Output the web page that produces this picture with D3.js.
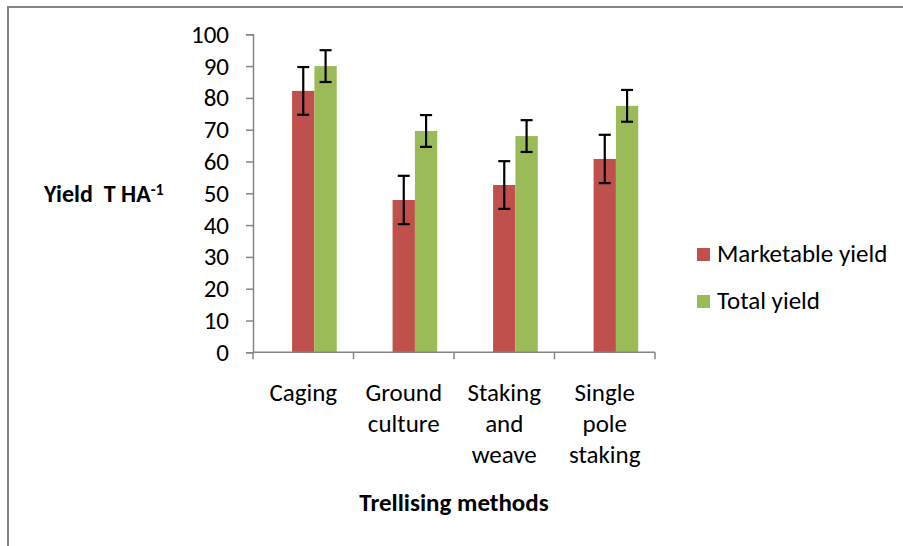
<!DOCTYPE html>
<html>
<head>
<meta charset="utf-8">
<script src="https://cdn.jsdelivr.net/npm/d3@7"></script>
<style>
  body { margin: 0; background: #fff; }
  svg { display: block; font-family: Carlito, Calibri, Lato, sans-serif; }
</style>
</head>
<body>
<svg id="chart" width="903" height="546"></svg>
<script>
// data
const categories = ["Caging", "Ground culture", "Staking and weave", "Single pole staking"];
const categoryLines = [["Caging"], ["Ground", "culture"], ["Staking", "and", "weave"], ["Single", "pole", "staking"]];
const seriesNames = ["Marketable yield", "Total yield"];
const marketable = [82.2, 47.9, 52.6, 60.8];
const marketableErr = [7.5, 7.6, 7.5, 7.6];
const total = [90.0, 69.6, 68.0, 77.5];
const totalErr = [5, 5, 5, 5];
const yTicks = [0, 10, 20, 30, 40, 50, 60, 70, 80, 90, 100];
const colors = ["#c0504d", "#9bbb59"];

const svg = d3.select("#chart");
const axisCol = "#868686";
const fs = 25;

// outer frame (only top and left visible)
svg.append("path")
  .attr("d", "M8,560 L8,7 L910,7")
  .attr("fill", "none")
  .attr("stroke", axisCol)
  .attr("stroke-width", 2);

const plotL = 253, plotR = 655, plotT = 34.3, plotB = 352.3;

const x = d3.scaleBand().domain(categories).range([plotL, plotR]);
// 3 slots per group, first one is empty (as in the original)
const x1 = d3.scaleBand().domain([0, 1, 2])
  .range([0, x.bandwidth()])
  .paddingOuter(0.75);
const y = d3.scaleLinear().domain([0, 100]).range([plotB, plotT]);

const g = svg.append("g");

// bars
const series = [
  {name: seriesNames[0], vals: marketable, err: marketableErr, slot: 1, color: colors[0]},
  {name: seriesNames[1], vals: total, err: totalErr, slot: 2, color: colors[1]}
];

series.forEach(s => {
  g.selectAll(null)
    .data(categories)
    .enter().append("rect")
    .attr("x", (d) => x(d) + x1(s.slot))
    .attr("width", x1.bandwidth())
    .attr("y", (d, i) => y(s.vals[i]))
    .attr("height", (d, i) => y(0) - y(s.vals[i]))
    .attr("fill", s.color);
});

// error bars
series.forEach(s => {
  const eb = g.selectAll(null)
    .data(categories)
    .enter().append("g")
    .attr("stroke", "#000")
    .attr("stroke-width", 2.2);
  const cx = d => x(d) + x1(s.slot) + x1.bandwidth() / 2;
  eb.append("line")
    .attr("x1", cx).attr("x2", cx)
    .attr("y1", (d, i) => y(s.vals[i] + s.err[i]))
    .attr("y2", (d, i) => y(s.vals[i] - s.err[i]));
  eb.append("line")
    .attr("x1", d => cx(d) - 6).attr("x2", d => cx(d) + 6)
    .attr("y1", (d, i) => y(s.vals[i] + s.err[i]))
    .attr("y2", (d, i) => y(s.vals[i] + s.err[i]));
  eb.append("line")
    .attr("x1", d => cx(d) - 6).attr("x2", d => cx(d) + 6)
    .attr("y1", (d, i) => y(s.vals[i] - s.err[i]))
    .attr("y2", (d, i) => y(s.vals[i] - s.err[i]));
});

// y axis
const yAxis = g.append("g")
  .attr("transform", "translate(" + plotL + ",0)")
  .call(d3.axisLeft(y).tickValues(yTicks).tickSize(7).tickPadding(17));
yAxis.select(".domain").attr("stroke", axisCol).attr("stroke-width", 1.5);
yAxis.selectAll(".tick line").attr("stroke", axisCol).attr("stroke-width", 1.5);
yAxis.selectAll(".tick text")
  .attr("font-family", "Carlito, Calibri, Lato, sans-serif")
  .attr("font-size", fs).attr("fill", "#000");

// x axis (ticks at category boundaries)
const xb = categories.map(c => x(c)).concat([plotR]);
g.append("line")
  .attr("x1", plotL).attr("x2", plotR)
  .attr("y1", plotB).attr("y2", plotB)
  .attr("stroke", axisCol).attr("stroke-width", 1.5);
g.selectAll(null)
  .data(xb)
  .enter().append("line")
  .attr("x1", d => d).attr("x2", d => d)
  .attr("y1", plotB).attr("y2", plotB + 7)
  .attr("stroke", axisCol).attr("stroke-width", 1.5);

// category labels
categories.forEach((c, i) => {
  const t = g.append("text")
    .attr("text-anchor", "middle")
    .attr("font-size", fs)
    .attr("fill", "#000");
  categoryLines[i].forEach((ln, k) => {
    t.append("tspan")
      .attr("x", x(c) + x.bandwidth() / 2)
      .attr("y", 401 + k * 31)
      .text(ln);
  });
});

// axis titles
svg.append("text")
  .attr("x", plotL + (plotR - plotL) / 2)
  .attr("y", 511)
  .attr("text-anchor", "middle")
  .attr("font-size", fs)
  .attr("font-weight", "bold")
  .text("Trellising methods");

const yt = svg.append("text")
  .attr("x", 44)
  .attr("y", 202)
  .attr("font-size", 24)
  .attr("font-weight", "bold")
  .attr("xml:space", "preserve");
yt.append("tspan").text("Yield  T HA");
yt.append("tspan").attr("dy", -7).attr("font-size", 16).text("-1");

// legend
const leg = svg.append("g");
series.forEach((s, i) => {
  leg.append("rect")
    .attr("x", 697).attr("y", 248 + i * 47)
    .attr("width", 13).attr("height", 13)
    .attr("fill", s.color);
  leg.append("text")
    .attr("x", 717).attr("y", 262 + i * 47)
    .attr("font-size", fs)
    .text(s.name);
});
</script>
</body>
</html>
